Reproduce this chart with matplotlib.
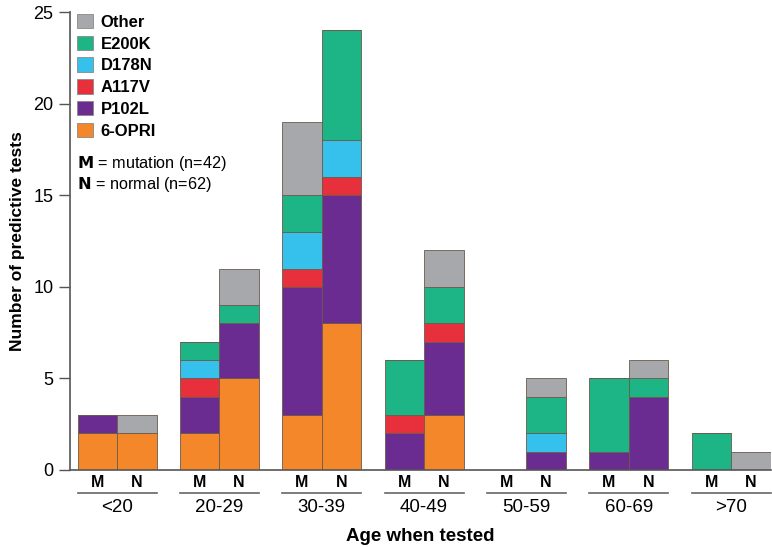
import matplotlib.pyplot as plt
from matplotlib.patches import Patch
import numpy as np

plt.rcParams['font.family'] = ['Liberation Sans', 'DejaVu Sans']

groups = ['<20', '20-29', '30-39', '40-49', '50-59', '60-69', '>70']
series = ['6-OPRI', 'P102L', 'A117V', 'D178N', 'E200K', 'Other']
colors = ['#f5872b', '#6a2c91', '#e8303c', '#35c1ec', '#1db585', '#a7a8ab']

# counts per group, bottom to top in the order of `series`
mutation = {
    '6-OPRI': [2, 2, 3, 0, 0, 0, 0],
    'P102L':  [1, 2, 7, 2, 0, 1, 0],
    'A117V':  [0, 1, 1, 1, 0, 0, 0],
    'D178N':  [0, 1, 2, 0, 0, 0, 0],
    'E200K':  [0, 1, 2, 3, 0, 4, 2],
    'Other':  [0, 0, 4, 0, 0, 0, 0],
}
normal = {
    '6-OPRI': [2, 5, 8, 3, 0, 0, 0],
    'P102L':  [0, 3, 7, 4, 1, 4, 0],
    'A117V':  [0, 0, 1, 1, 0, 0, 0],
    'D178N':  [0, 0, 2, 0, 1, 0, 0],
    'E200K':  [0, 1, 6, 2, 2, 1, 0],
    'Other':  [1, 2, 0, 2, 1, 1, 1],
}

fig = plt.figure(figsize=(7.72, 5.47), dpi=100)
ax = fig.add_axes([0.0907, 0.1408, 0.908, 0.837])

x = np.arange(len(groups))
width = 0.386

for data, offset in ((mutation, -width / 2), (normal, width / 2)):
    bottom = np.zeros(len(groups))
    for s, c in zip(series, colors):
        vals = np.array(data[s])
        ax.bar(x + offset, vals, width, bottom=bottom, color=c,
               edgecolor='#6b5a4a', linewidth=0.6)
        bottom += vals

ax.set_xlim(-0.46, 6.39)
ax.set_ylim(0, 25)
ax.set_yticks(range(0, 26, 5))
ax.tick_params(axis='y', labelsize=13, length=8, width=1, color='#555555', pad=4)
ax.set_xticks([])
ax.spines['top'].set_visible(False)
ax.spines['right'].set_visible(False)
for sp in ('left', 'bottom'):
    ax.spines[sp].set_color('#555555')
    ax.spines[sp].set_linewidth(1.2)

ax.set_ylabel('Number of predictive tests', fontsize=12.5, fontweight='bold', labelpad=6)

trans = ax.get_xaxis_transform()
for i, g in enumerate(groups):
    ax.text(i - width / 2, -0.0284, 'M', transform=trans, ha='center', va='center',
            fontsize=11.5, fontweight='bold')
    ax.text(i + width / 2, -0.0284, 'N', transform=trans, ha='center', va='center',
            fontsize=11.5, fontweight='bold')
    ax.plot([i - width, i + width], [-0.050, -0.050], transform=trans,
            color='#666666', lw=1.2, clip_on=False)
    ax.text(i, -0.082, g, transform=trans, ha='center', va='center', fontsize=13.5)

ax.text(0.5, -0.146, 'Age when tested', transform=ax.transAxes, ha='center',
        va='center', fontsize=13.5, fontweight='bold')

handles = [Patch(facecolor=c, edgecolor='#888888', linewidth=0.6, label=s)
           for s, c in zip(series[::-1], colors[::-1])]
leg = ax.legend(handles=handles, loc='upper left', bbox_to_anchor=(-0.004, 1.018),
                frameon=False, handlelength=0.95, handleheight=0.95,
                handletextpad=0.45, labelspacing=0.35, borderaxespad=0.2,
                prop={'weight': 'bold', 'size': 12})

ax.text(0.01, 0.669, r'$\mathbf{M}$ = mutation (n=42)', transform=ax.transAxes,
        fontsize=11.7, va='center')
ax.text(0.01, 0.624, r'$\mathbf{N}$ = normal (n=62)', transform=ax.transAxes,
        fontsize=11.7, va='center')

fig.savefig('out.png', dpi=100)
